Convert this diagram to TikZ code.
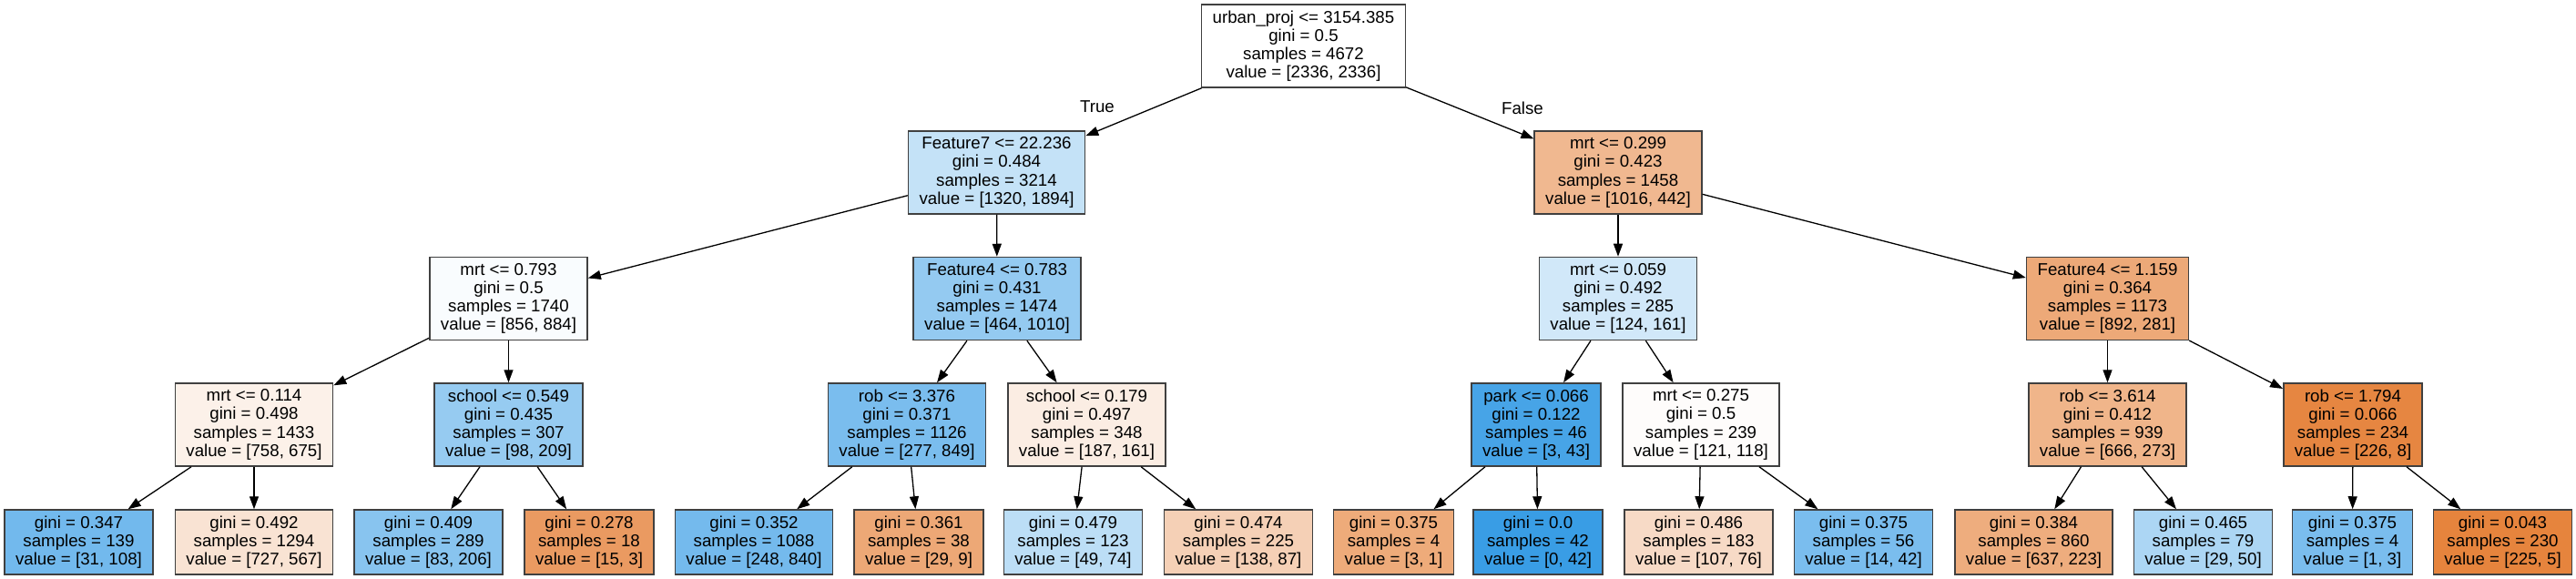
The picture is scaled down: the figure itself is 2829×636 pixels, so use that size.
\documentclass[tikz,border=0pt]{standalone}
\usepackage{fontspec}
\setmainfont{Liberation Sans}
\usepackage{xcolor}
\usetikzlibrary{arrows.meta}
\definecolor{cOrange}{HTML}{E58139}
\definecolor{cBlue}{HTML}{399DE5}
\definecolor{rim}{HTML}{404040}
\tikzset{
  testbox/.style={rectangle, draw=rim, line width=1.5pt, align=center, inner xsep=12pt, inner ysep=0pt, minimum height=91pt, font=\fontsize{18.7}{20.2}\selectfont},
  leafbox/.style={testbox, minimum height=71pt},
  link/.style={-{Triangle[length=14pt,width=10pt]}, line width=1.3pt, black},
  elbl/.style={font=\fontsize{18.7}{20.2}\selectfont, inner sep=0pt},
}

\begin{document}
\begin{tikzpicture}[x=1pt, y=-1pt]
\path[use as bounding box, fill=white] (0,0) rectangle (2829,636);
\node[testbox, fill=white] (n0) at (1431.5,50.5) {urban\_proj <= 3154.385\\gini = 0.5\\samples = 4672\\value = [2336, 2336]};
\node[testbox, fill=cBlue!30] (n1) at (1094.5,189.5) {Feature7 <= 22.236\\gini = 0.484\\samples = 3214\\value = [1320, 1894]};
\node[testbox, fill=cOrange!56] (n2) at (1777,189.5) {mrt <= 0.299\\gini = 0.423\\samples = 1458\\value = [1016, 442]};
\node[testbox, fill=cBlue!3] (n3) at (558.5,328) {mrt <= 0.793\\gini = 0.5\\samples = 1740\\value = [856, 884]};
\node[testbox, fill=cBlue!54] (n4) at (1095,328) {Feature4 <= 0.783\\gini = 0.431\\samples = 1474\\value = [464, 1010]};
\node[testbox, fill=cBlue!23] (n5) at (1777,328) {mrt <= 0.059\\gini = 0.492\\samples = 285\\value = [124, 161]};
\node[testbox, fill=cOrange!68] (n6) at (2314.5,328) {Feature4 <= 1.159\\gini = 0.364\\samples = 1173\\value = [892, 281]};
\node[testbox, fill=cOrange!11] (n7) at (279,466.5) {mrt <= 0.114\\gini = 0.498\\samples = 1433\\value = [758, 675]};
\node[testbox, fill=cBlue!53] (n8) at (558.5,466.5) {school <= 0.549\\gini = 0.435\\samples = 307\\value = [98, 209]};
\node[testbox, fill=cBlue!67] (n9) at (996,466.5) {rob <= 3.376\\gini = 0.371\\samples = 1126\\value = [277, 849]};
\node[testbox, fill=cOrange!14] (n10) at (1193.5,466.5) {school <= 0.179\\gini = 0.497\\samples = 348\\value = [187, 161]};
\node[testbox, fill=cBlue!93] (n11) at (1687,466.5) {park <= 0.066\\gini = 0.122\\samples = 46\\value = [3, 43]};
\node[testbox, fill=cOrange!2] (n12) at (1868,466.5) {mrt <= 0.275\\gini = 0.5\\samples = 239\\value = [121, 118]};
\node[testbox, fill=cOrange!59] (n13) at (2314.5,466.5) {rob <= 3.614\\gini = 0.412\\samples = 939\\value = [666, 273]};
\node[testbox, fill=cOrange!96] (n14) at (2584,466.5) {rob <= 1.794\\gini = 0.066\\samples = 234\\value = [226, 8]};
\node[leafbox, fill=cBlue!71] (l1) at (86.5,595.5) {gini = 0.347\\samples = 139\\value = [31, 108]};
\node[leafbox, fill=cOrange!22] (l2) at (279,595.5) {gini = 0.492\\samples = 1294\\value = [727, 567]};
\node[leafbox, fill=cBlue!60] (l3) at (470.5,595.5) {gini = 0.409\\samples = 289\\value = [83, 206]};
\node[leafbox, fill=cOrange!80] (l4) at (647,595.5) {gini = 0.278\\samples = 18\\value = [15, 3]};
\node[leafbox, fill=cBlue!70] (l5) at (828,595.5) {gini = 0.352\\samples = 1088\\value = [248, 840]};
\node[leafbox, fill=cOrange!69] (l6) at (1009,595.5) {gini = 0.361\\samples = 38\\value = [29, 9]};
\node[leafbox, fill=cBlue!34] (l7) at (1178.5,595.5) {gini = 0.479\\samples = 123\\value = [49, 74]};
\node[leafbox, fill=cOrange!37] (l8) at (1360,595.5) {gini = 0.474\\samples = 225\\value = [138, 87]};
\node[leafbox, fill=cOrange!67] (l9) at (1530.5,595.5) {gini = 0.375\\samples = 4\\value = [3, 1]};
\node[leafbox, fill=cBlue] (l10) at (1689,595.5) {gini = 0.0\\samples = 42\\value = [0, 42]};
\node[leafbox, fill=cOrange!29] (l11) at (1865.5,595.5) {gini = 0.486\\samples = 183\\value = [107, 76]};
\node[leafbox, fill=cBlue!67] (l12) at (2046.5,595.5) {gini = 0.375\\samples = 56\\value = [14, 42]};
\node[leafbox, fill=cOrange!65] (l13) at (2233.5,595.5) {gini = 0.384\\samples = 860\\value = [637, 223]};
\node[leafbox, fill=cBlue!42] (l14) at (2419.5,595.5) {gini = 0.465\\samples = 79\\value = [29, 50]};
\node[leafbox, fill=cBlue!67] (l15) at (2583.5,595.5) {gini = 0.375\\samples = 4\\value = [1, 3]};
\node[leafbox, fill=cOrange!98] (l16) at (2748.5,595.5) {gini = 0.043\\samples = 230\\value = [225, 5]};
\node[elbl] (tTrue) at (1205,117) {True};
\node[elbl] (tFalse) at (1672,119) {False};
\draw[link] (n0) -- (n1);
\draw[link] (n0) -- (n2);
\foreach \a/\b in {n1/n3, n1/n4, n3/n7, n3/n8, n4/n9, n4/n10, n2/n5, n2/n6, n5/n11, n5/n12, n6/n13, n6/n14,
  n7/l1, n7/l2, n8/l3, n8/l4, n9/l5, n9/l6, n10/l7, n10/l8, n11/l9, n11/l10, n12/l11, n12/l12, n13/l13, n13/l14, n14/l15, n14/l16}
  \draw[link] (\a) -- (\b);
\end{tikzpicture}
\end{document}
